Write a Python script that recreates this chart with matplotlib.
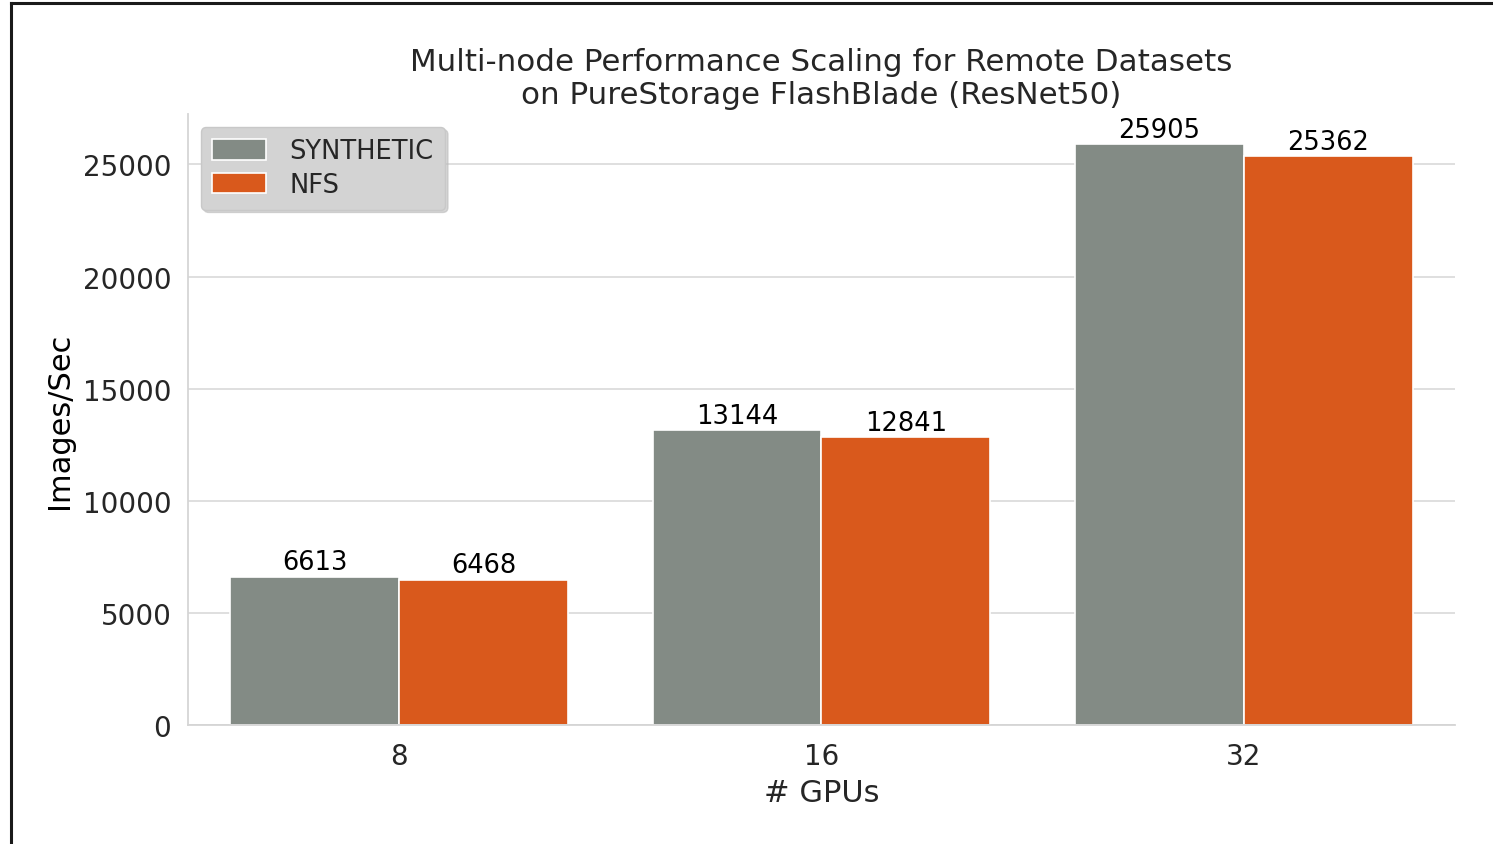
import matplotlib
matplotlib.use("Agg")
import matplotlib.pyplot as plt
from matplotlib.lines import Line2D
import numpy as np

gpus = ["8", "16", "32"]
series_names = ["SYNTHETIC", "NFS"]
synthetic = [6613, 13144, 25905]
nfs = [6468, 12841, 25362]
colors = ["#838B85", "#D9591C"]
yticks = [0, 5000, 10000, 15000, 20000, 25000]

plt.rcParams['font.family'] = ['DejaVu Sans']
text_color = "#262626"

fig = plt.figure(figsize=(14.93, 8.45), dpi=100)
ax = fig.add_axes([188/1493, 1-726/845, (1455-188)/1493, (726-115)/845])

x = np.arange(len(gpus))
w = 0.4
vals = [synthetic, nfs]
for i, (name, v, c) in enumerate(zip(series_names, vals, colors)):
    pos = x + (i - 0.5) * w
    bars = ax.bar(pos, v, width=w, color=c, edgecolor="white", linewidth=1.2,
                  label=name, zorder=2)
    for b, val in zip(bars, v):
        ax.text(b.get_x() + b.get_width()/2, val + 70, f"{val}",
                ha="center", va="bottom", fontsize=18.5, color="black")

ax.set_xlim(-0.5, 2.5)
ax.set_ylim(0, 27250)
ax.set_xticks(x)
ax.set_xticklabels(gpus)
ax.set_yticks(yticks)
ax.tick_params(axis="both", labelsize=20, colors=text_color, length=0)
ax.tick_params(axis="x", pad=12)
ax.tick_params(axis="y", pad=12)
ax.grid(axis="y", color="#d9d9d9", linewidth=1.2, zorder=0)
ax.set_axisbelow(True)
for s in ["top", "right"]:
    ax.spines[s].set_visible(False)
for s in ["left", "bottom"]:
    ax.spines[s].set_color("#d5d5d5")
    ax.spines[s].set_linewidth(1.3)

ax.set_xlabel("# GPUs", fontsize=22, color=text_color, labelpad=6)
ax.set_ylabel("Images/Sec", fontsize=22, color="black", labelpad=6)
ax.set_title("Multi-node Performance Scaling for Remote Datasets\non PureStorage FlashBlade (ResNet50)",
             fontsize=22.3, color=text_color, pad=8, linespacing=1.15)

leg = ax.legend(loc="upper left", bbox_to_anchor=(0.0, 1.0), fontsize=18.5,
                frameon=True, facecolor="#d3d3d3", edgecolor="#c8c8c8",
                framealpha=1.0, shadow={"color": "#bbbbbb", "alpha": 0.6},
                handlelength=2.1, handleheight=0.85,
                borderpad=0.45, labelspacing=0.3, handletextpad=0.9)
for t in leg.get_texts():
    t.set_color(text_color)

# page frame lines
fig.add_artist(Line2D([10.5/1493, 10.5/1493], [0, 1-4/845], transform=fig.transFigure,
                      color="#1a1a1a", linewidth=2.2))
fig.add_artist(Line2D([10.5/1493, 1], [1-4/845, 1-4/845], transform=fig.transFigure,
                      color="#1a1a1a", linewidth=2.2))

fig.savefig("out.png", dpi=100)
